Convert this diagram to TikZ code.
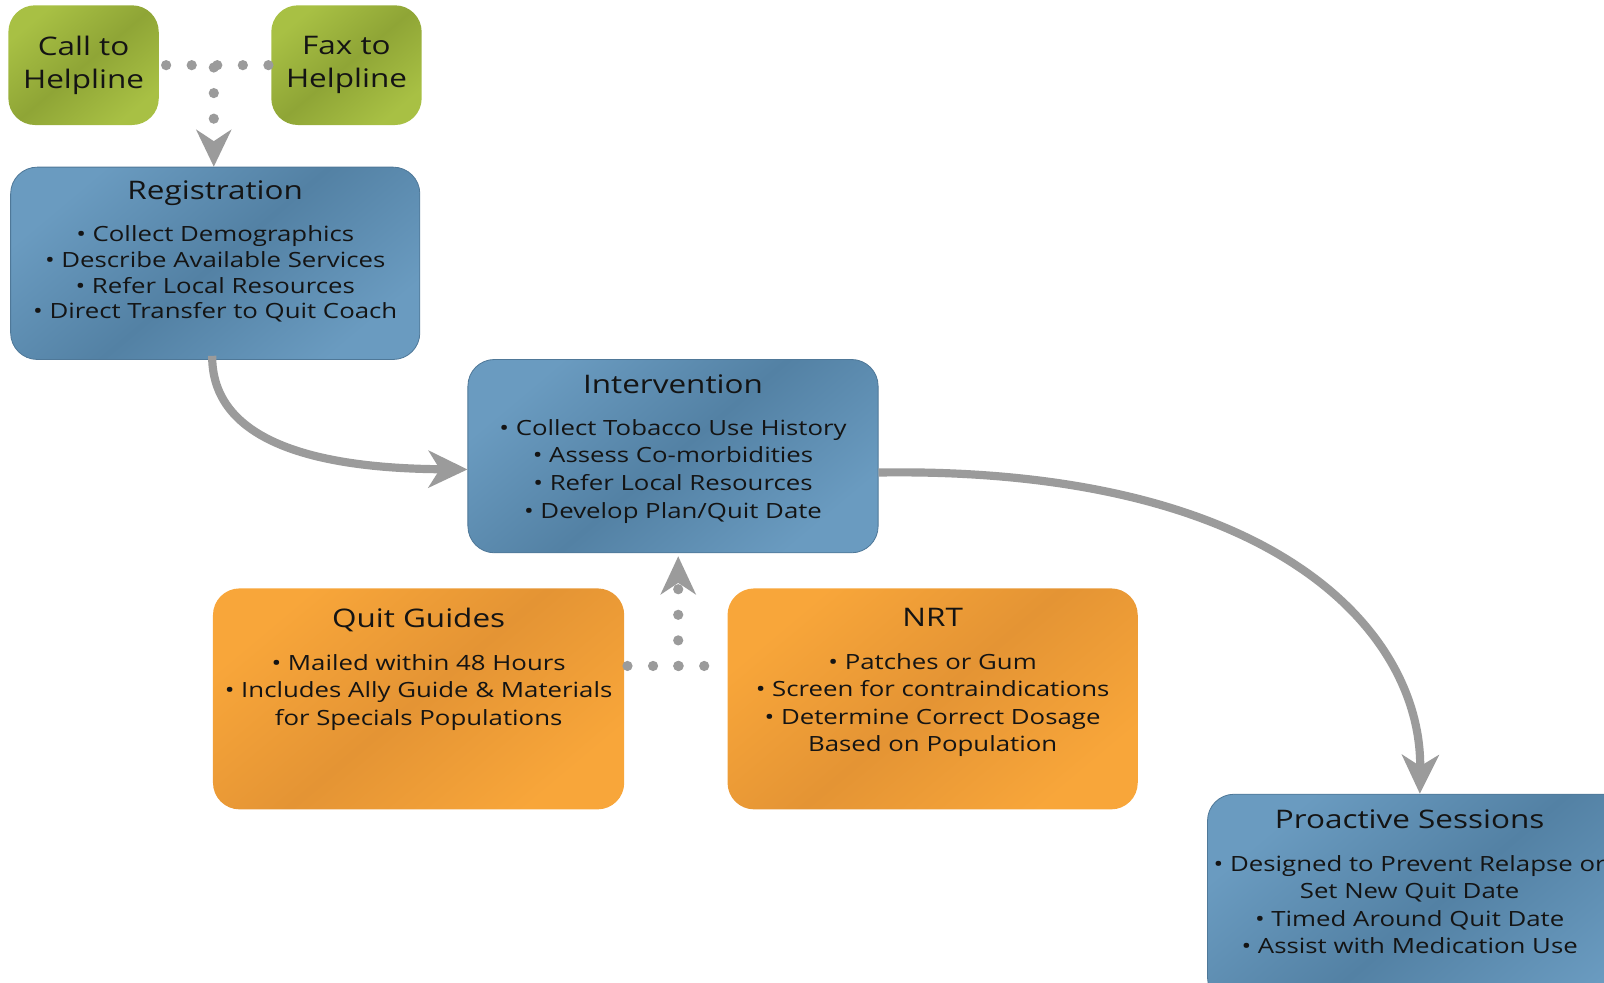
\documentclass[tikz,border=0pt]{standalone}
\usepackage{fontspec}
\setmainfont{Open Sans}[FakeStretch=1.23]
\usetikzlibrary{arrows.meta}
\definecolor{blueA}{HTML}{6A9BC0}
\definecolor{blueB}{HTML}{5381A4}
\definecolor{blueD}{HTML}{4F7898}
\definecolor{greenA}{HTML}{A8C044}
\definecolor{greenB}{HTML}{8FA536}
\definecolor{orangeA}{HTML}{F8A63A}
\definecolor{orangeB}{HTML}{E49434}
\definecolor{connG}{HTML}{9B9B9B}
\definecolor{txtC}{HTML}{141414}
\tikzset{
  boxbase/.style={rounded corners=26pt, inner sep=0pt, anchor=north west, shading=axis},
  bluebox/.style={boxbase, draw=blueD, line width=0.8pt, top color=blueA, bottom color=blueA, middle color=blueB, shading angle=40},
  greenbox/.style={boxbase, top color=greenA, bottom color=greenA, middle color=greenB, shading angle=40, font=\fontsize{25}{32}\selectfont, text=txtC, align=center},
  orangebox/.style={boxbase, top color=orangeA, bottom color=orangeA, middle color=orangeB, shading angle=40},
  txt/.style={anchor=north, inner sep=0pt, align=center, text=txtC, font=\fontsize{20.5}{25}\selectfont},
  dotline/.style={draw=connG, line width=10pt, line cap=round, dash pattern=on 0pt off 25pt},
  curveconn/.style={draw=connG, line width=8pt},
  bigtip/.style={-{Stealth[length=38pt, width=36pt, inset=11pt]}},
}
\newcommand{\ttl}[1]{{\fontsize{25}{30}\selectfont #1}}
\begin{document}
\begin{tikzpicture}[x=1pt, y=-1pt]
\useasboundingbox (0,0) rectangle (1568,960);
\clip (0,0) rectangle (1568,960);

% boxes
\node[greenbox, minimum width=147pt, minimum height=117pt] (call) at (8,5) {Call to\\Helpline};
\node[greenbox, minimum width=147pt, minimum height=117pt] (fax) at (265,5) {Fax to\\Helpline};
\node[bluebox, minimum width=400pt, minimum height=188pt] (reg) at (10,163) {};
\node[bluebox, minimum width=401pt, minimum height=189pt] (int) at (457,351) {};
\node[orangebox, minimum width=402pt, minimum height=216pt] (qg) at (208,575) {};
\node[orangebox, minimum width=401pt, minimum height=216pt] (nrt) at (711,575) {};
\node[bluebox, minimum width=460pt, minimum height=205pt] (pro) at (1180,776) {};

% texts
\node[txt] (regt) at ([yshift=-13pt]reg.north) {\ttl{Registration}\\[17pt]
  • Collect Demographics\\ • Describe Available Services\\ • Refer Local Resources\\ • Direct Transfer to Quit Coach};
\node[txt, font=\fontsize{20.5}{27}\selectfont] (intt) at ([yshift=-15pt]int.north) {\ttl{Intervention}\\[14pt]
  • Collect Tobacco Use History\\ • Assess Co-morbidities\\ • Refer Local Resources\\ • Develop Plan/Quit Date};
\node[txt, font=\fontsize{20.5}{27}\selectfont] (qgt) at ([yshift=-19pt]qg.north) {\ttl{Quit Guides}\\[15pt]
  • Mailed within 48 Hours\\ • Includes Ally Guide \& Materials\\ for Specials Populations};
\node[txt, font=\fontsize{20.5}{27}\selectfont] (nrtt) at ([yshift=-19pt]nrt.north) {\ttl{NRT}\\[15pt]
  • Patches or Gum\\ • Screen for contraindications\\ • Determine Correct Dosage\\ Based on Population};
\node[txt, font=\fontsize{20.5}{27}\selectfont] (prot) at (1378,791) {\ttl{Proactive Sessions}\\[15pt]
  • Designed to Prevent Relapse or\\ Set New Quit Date\\ • Timed Around Quit Date\\ • Assist with Medication Use};

% dotted connectors, top
\coordinate (topj) at (209,66);
\draw[dotline] ([xshift=7pt]call.east) -- (fax.west);
\draw[dotline, -{Stealth[length=36pt, width=34pt, inset=11pt]}] (topj) -- (reg.north -| topj);

% dotted connectors, bottom
\coordinate (botj) at (663,651);
\draw[dotline] ([xshift=3pt]qg.east |- botj) -- (nrt.west |- botj);
\draw[dotline, -{Stealth[length=37pt, width=34pt, inset=11pt]}] (botj) -- ([yshift=-3pt]int.south -| botj);

% curved connectors
\draw[curveconn, bigtip] ([xshift=-3pt,yshift=4pt]reg.south) .. controls (207,440) and (330,458) .. ([yshift=-13pt]int.west);
\draw[curveconn, bigtip] ([yshift=-16pt]int.east) .. controls (1250,456) and (1390,620) .. (pro.north -| 1388,0);
\end{tikzpicture}
\end{document}
